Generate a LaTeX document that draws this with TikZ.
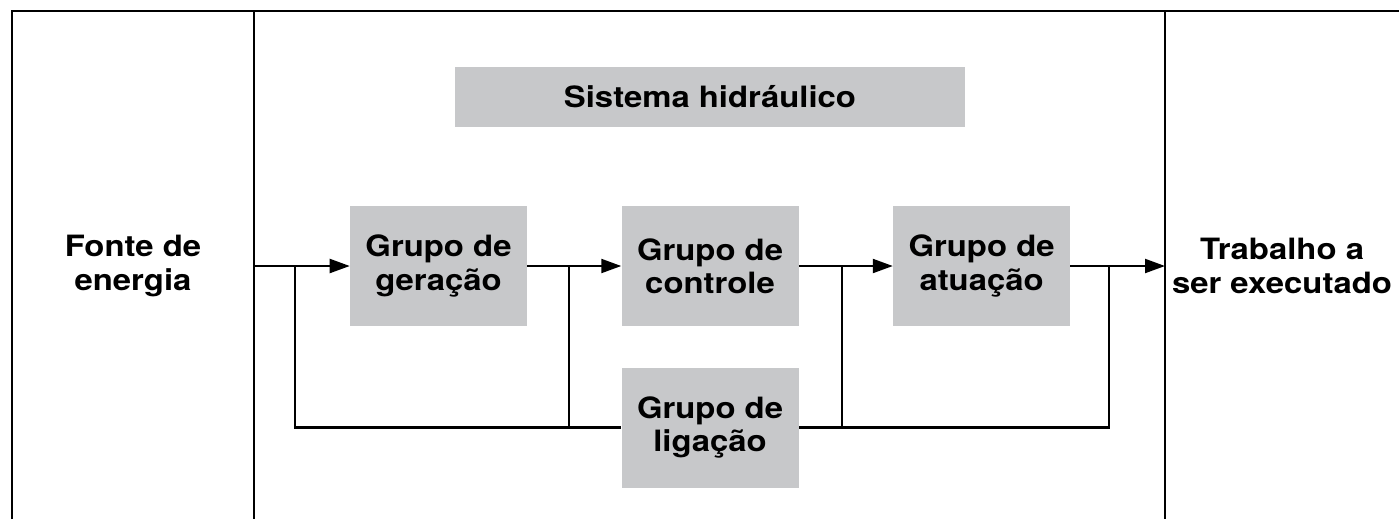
\documentclass[tikz,border=0pt]{standalone}
\usepackage{fontspec}
\setmainfont{TeX Gyre Heros}[FakeStretch=1.12]
\usetikzlibrary{arrows.meta,positioning}
\definecolor{boxgray}{RGB}{199,200,202}

\begin{document}
\begin{tikzpicture}[
    x=0.75pt, y=-0.75pt,
    node distance=70.5pt,
    every node/.style={font=\fontsize{22}{25}\selectfont\bfseries, align=center},
    group/.style={rectangle, fill=boxgray, inner sep=0pt, minimum width=132.75pt, minimum height=90pt},
    title/.style={rectangle, fill=boxgray, inner sep=0pt, minimum width=383pt, minimum height=45pt},
    frame/.style={line width=1.6pt},
    line/.style={line width=1.6pt},
    arrow/.style={line width=1.6pt,-{Triangle[length=15pt,width=10.5pt]}}
]
\useasboundingbox (0,0) rectangle (1399,519);

% Frame and columns
\draw[frame] (12,519) -- (12,11) -- (1399,11);
\draw[frame] (254,11) -- (254,519);
\draw[frame] (1165,11) -- (1165,519);

% Outer labels
\node (fonte) at (133,266) {Fonte de\\energia};
\node (trabalho) at (1282,266) {Trabalho a\\ser executado};

% Hydraulic system
\node[title] (sistema) at (710,97) {Sistema hidráulico};

\node[group] (geracao) at (438.5,266) {Grupo de\\geração};
\node[group, right=of geracao] (controle) {Grupo de\\controle};
\node[group, right=of controle] (atuacao) {Grupo de\\atuação};
\node[group, below=30.75pt of controle] (ligacao) {Grupo de\\ligação};

% Junctions on the main line
\coordinate (entrada) at (254,266);
\coordinate (saida) at (1165,266);
\coordinate (j1) at (295,266);
\coordinate (j2) at (569,266);
\coordinate (j3) at (842,266);
\coordinate (j4) at (1109,266);

% Main flow
\draw[arrow] (entrada) -- (geracao);
\draw[arrow] (geracao) -- (controle);
\draw[arrow] (controle) -- (atuacao);
\draw[arrow] (atuacao) -- (saida);

% Return through ligacao
\draw[line] (j1) |- (ligacao.west);
\draw[line] (j4) |- (ligacao.east);
\draw[line] (j2) -- (j2 |- ligacao.west);
\draw[line] (j3) -- (j3 |- ligacao.east);

\end{tikzpicture}
\end{document}
